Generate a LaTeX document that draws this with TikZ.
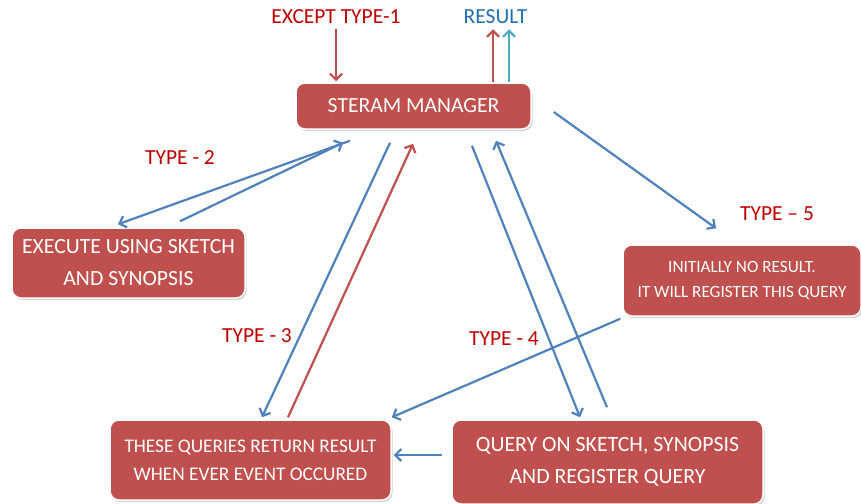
\documentclass[tikz,border=0pt]{standalone}
\usepackage{fontspec}
\setmainfont{Carlito}
\usetikzlibrary{arrows.meta,shadows}
\definecolor{boxred}{HTML}{C0504D}
\definecolor{linkblue}{HTML}{4F81BD}
\definecolor{linkcyan}{HTML}{4BACC6}
\definecolor{labelred}{HTML}{C00000}
\definecolor{labelblue}{HTML}{1F6FB5}
\tikzset{
  procbox/.style={rectangle, rounded corners=9pt, fill=boxred, draw=white,
    line width=1.5pt, text=white, align=center, inner sep=0pt,
    drop shadow={opacity=0.35, shadow xshift=1.5pt, shadow yshift=-2pt}},
  typelabel/.style={text=labelred, font=\fontsize{21.5}{24}\selectfont, inner sep=1pt},
  link/.style={line width=2.2pt, -{Straight Barb[length=6pt,width=12pt,line width=2.2pt]}},
  bluelink/.style={link, draw=linkblue},
  redlink/.style={link, draw=boxred},
  cyanlink/.style={link, draw=linkcyan},
}
\begin{document}
\begin{tikzpicture}[x=1pt,y=-1pt]
\useasboundingbox (0,0) rectangle (861,503);

% process boxes
\node[procbox, minimum width=235pt, minimum height=46pt, font=\fontsize{21.6}{24}\selectfont]
  (sm) at (413.5,106) {STERAM MANAGER};
\node[procbox, minimum width=233pt, minimum height=70pt, font=\fontsize{21.7}{32}\selectfont]
  (ex) at (128.5,263) {EXECUTE USING SKETCH\\AND SYNOPSIS};
\node[procbox, minimum width=238pt, minimum height=71pt, font=\fontsize{17.2}{25}\selectfont]
  (in) at (742,280.5) {INITIALLY NO RESULT.\\IT WILL REGISTER THIS QUERY};
\node[procbox, minimum width=281pt, minimum height=80pt, font=\fontsize{19.3}{28}\selectfont]
  (th) at (250.5,460) {THESE QUERIES RETURN RESULT\\WHEN EVER EVENT OCCURED};
\node[procbox, minimum width=311pt, minimum height=84pt, font=\fontsize{21.8}{32}\selectfont]
  (qr) at (607.5,462) {QUERY ON SKETCH, SYNOPSIS\\AND REGISTER QUERY};

% labels
\node[typelabel] (exc) at (336,17) {EXCEPT TYPE-1};
\node[typelabel, text=labelblue] (res) at (495.5,17) {RESULT};
\node[typelabel] (t2) at (180,158) {TYPE - 2};
\node[typelabel] (t3) at (257,336) {TYPE - 3};
\node[typelabel] (t4) at (504,339) {TYPE - 4};
\node[typelabel] (t5) at (777,214) {TYPE -- 5};

% input and output of the stream manager
\draw[redlink] ([yshift=-4pt]exc.south) -- ([xshift=-77.5pt,yshift=1pt]sm.north);
\draw[redlink] ([xshift=79.5pt]sm.north) -- ([xshift=-2.5pt,yshift=-4pt]res.south);
\draw[cyanlink] ([xshift=95.5pt]sm.north) -- ([xshift=13.5pt,yshift=-4pt]res.south);

% type 2
\draw[bluelink] ([xshift=-63.5pt,yshift=-11pt]sm.south) -- ([xshift=-10.5pt,yshift=3pt]ex.north);
\draw[bluelink] ([xshift=51.5pt,yshift=6pt]ex.north) -- ([xshift=-70.5pt,yshift=-13pt]sm.south);

% type 3
\draw[bluelink] ([xshift=-23.5pt,yshift=-13pt]sm.south) -- ([xshift=11.5pt,yshift=2pt]th.north);
\draw[redlink] ([xshift=37.5pt,yshift=2pt]th.north) -- ([xshift=-0.5pt,yshift=-14pt]sm.south);

% type 4
\draw[bluelink] ([xshift=58.5pt,yshift=-16pt]sm.south) -- ([xshift=-27.5pt,yshift=2pt]qr.north);
\draw[bluelink] ([xshift=-0.5pt,yshift=12pt]qr.north) -- ([xshift=82.5pt,yshift=-11pt]sm.south);

% type 5
\draw[bluelink] ([xshift=22pt,yshift=-6pt]sm.east) -- ([xshift=-26pt,yshift=16pt]in.north);

% registered queries report through the result box
\draw[bluelink] ([xshift=-2pt,yshift=-2pt]in.south west) -- ([xshift=0pt,yshift=2pt]th.north east);
\draw[bluelink] ([xshift=-9pt,yshift=7pt]qr.west) -- ([xshift=2pt,yshift=5pt]th.east);
\end{tikzpicture}
\end{document}
